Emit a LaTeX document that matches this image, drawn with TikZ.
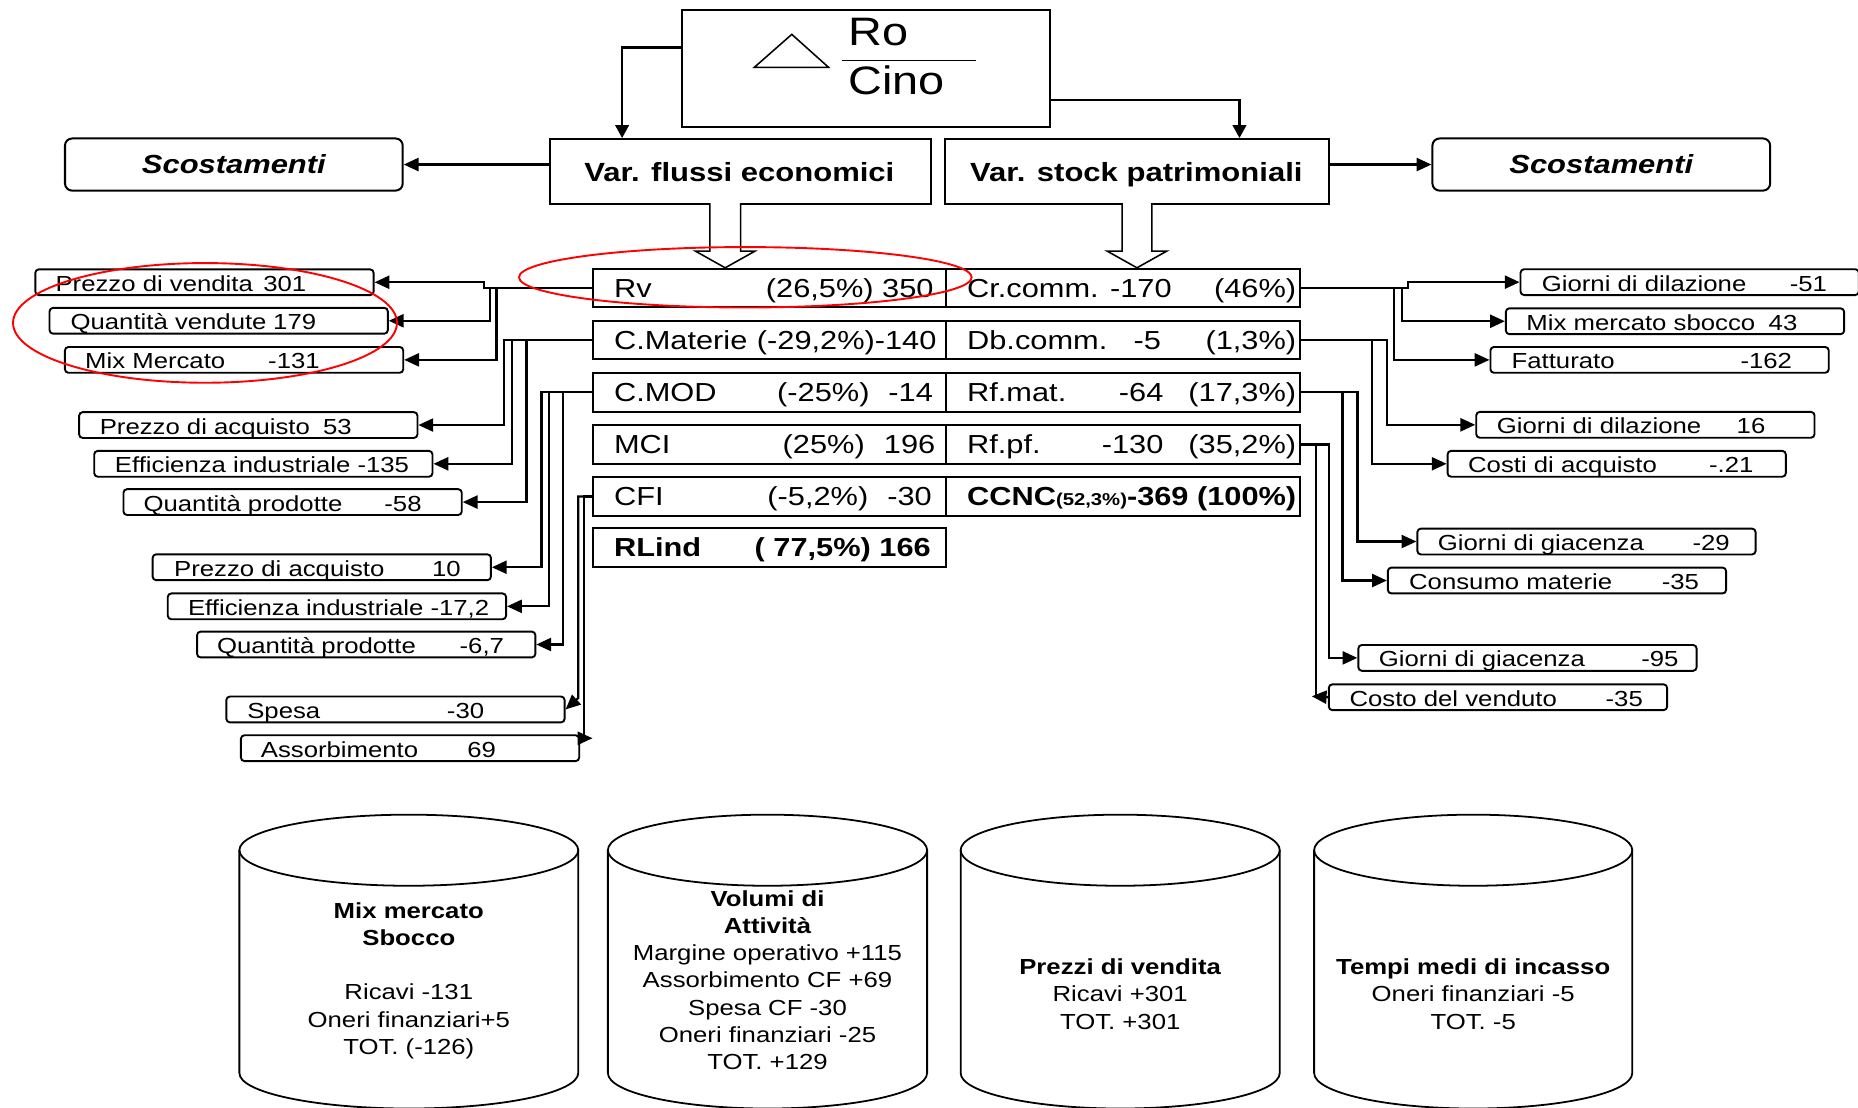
\documentclass[tikz,border=0pt]{standalone}
\usepackage{fontspec}
\setmainfont{Liberation Sans}[FakeStretch=1.18]
\usetikzlibrary{arrows.meta}

% side box: name, x, y (top left), label, label x, value, value right x
\newcommand\sidecell[7]{%
  \node[sidebox] (#1) at (#2,#3) {};
  \node[sidetxt,anchor=base west] (#1-t) at (#5,#3+19.3) {#4};
  \node[sidetxt,anchor=base east] (#1-v) at (#7,#3+19.3) {#6};}

% cylinder: centre x, x radius, top centre y, bottom centre y
\newcommand\drum[4]{%
  \draw[cyl] (#1-#2,#3) -- (#1-#2,#4)
     arc[start angle=180,end angle=360,x radius=#2pt,y radius=30pt] -- (#1+#2,#3);
  \draw[cyl] (#1,#3) ellipse[x radius=#2pt,y radius=30pt];}

\begin{document}
\begin{tikzpicture}[x=1pt,y=-1pt,
  box/.style={draw,line width=1.7pt,inner sep=0pt,anchor=north west},
  roundbox/.style={box,rounded corners=6pt,minimum width=285pt,minimum height=44pt},
  sidebox/.style={draw,line width=1.6pt,rounded corners=3pt,inner sep=0pt,
     anchor=north west,minimum width=285.5pt,minimum height=21.8pt},
  cell/.style={box,minimum width=297.6pt,minimum height=32.5pt},
  rcell/.style={box,minimum width=298.4pt,minimum height=32.5pt},
  conn/.style={line width=1.9pt},
  arr/.style={conn,-{Triangle[length=12.5pt,width=11pt]}},
  darr/.style={conn,-{Triangle[length=11pt,width=11.5pt]}},
  blk/.style={line width=1.3pt,fill=white},
  cyl/.style={line width=1.5pt},
  redring/.style={draw=red,line width=1.6pt},
  celltxt/.style={inner sep=0pt,font=\fontsize{22}{24}\selectfont},
  sidetxt/.style={inner sep=0pt,font=\fontsize{18.4}{20}\selectfont},
  drumtxt/.style={inner sep=0pt,align=center,font=\fontsize{18.4}{23}\selectfont},
  head/.style={font=\fontsize{22.2}{24}\selectfont\bfseries},
  scost/.style={font=\fontsize{22.1}{24}\selectfont\bfseries\itshape}]

\fill[white] (0,0) rectangle (1568,935);
\useasboundingbox (0,0) rectangle (1568,935);

% ---- top ratio box
\node[box,minimum width=310.6pt,minimum height=98pt] (top) at (574.6,8) {};
\draw[line width=1.3pt] (636.6,56.8) -- (668.2,29) -- (699.2,56.8) -- cycle;
\draw[line width=1.3pt] (710.8,51) -- (823.7,51);
\node[inner sep=0pt,anchor=base west,font=\fontsize{33.5}{36}\selectfont] (ro) at (715.8,38) {Ro};
\node[inner sep=0pt,anchor=base west,font=\fontsize{33.5}{36}\selectfont] (cino) at (715.8,80) {Cino};

% ---- second level
\node[box,minimum width=322pt,minimum height=55pt] (vfe) at (463,116.5) {};
\node[box,minimum width=324pt,minimum height=55pt] (vsp) at (797,116.5) {};
\node[head,inner sep=0pt,anchor=base] (vfe-t) at (624,153.3) {Var. flussi economici};
\node[head,inner sep=0pt,anchor=base] (vsp-t) at (959,153.3) {Var. stock patrimoniali};
\node[roundbox,scost] (sl) at (54,116) {Scostamenti};
\node[roundbox,scost] (sr) at (1208,116) {Scostamenti};

\draw[darr] (top.west |- 0,40) -| (525,0 |- vfe.north);
\draw[darr] (top.east |- 0,84.5) -| (1046,0 |- vsp.north);
\draw[arr] (vfe.west |- sl.east) -- (sl.east);
\draw[arr] (vsp.east |- sr.west) -- (sr.west);

% ---- hollow block arrows
\draw[blk] (599,171.5) -- (599,212) -- (587,212) -- (612,226) -- (637,212) -- (625,212) -- (625,171.5);
\draw[blk] (947,171.5) -- (947,212) -- (934.5,212) -- (959.5,226) -- (984.5,212) -- (972,212) -- (972,171.5);

% ---- central table, economic flows
\node[cell] (rv) at (500,226) {};
\node[cell] (cm) at (500,270) {};
\node[cell] (cmod) at (500,314) {};
\node[cell] (mci) at (500,358) {};
\node[cell] (cfi) at (500,402) {};
\node[cell] (rlind) at (500,445) {};
\node[celltxt,anchor=base west] (rv-a) at (518,250.8) {Rv};
\node[celltxt,anchor=base east] (rv-b) at (788,250.8) {(26,5\%) 350};
\node[celltxt,anchor=base west] (cm-a) at (518,294.8) {C.Materie};
\node[celltxt,anchor=base east] (cm-b) at (790.5,294.8) {(-29,2\%)-140};
\node[celltxt,anchor=base west] (cmod-a) at (518,338.8) {C.MOD};
\node[celltxt,anchor=base east] (cmod-b) at (734,338.8) {(-25\%)};
\node[celltxt,anchor=base east] (cmod-c) at (787.5,338.8) {-14};
\node[celltxt,anchor=base west] (mci-a) at (518,382.8) {MCI};
\node[celltxt,anchor=base east] (mci-b) at (730,382.8) {(25\%)};
\node[celltxt,anchor=base east] (mci-c) at (789.5,382.8) {196};
\node[celltxt,anchor=base west] (cfi-a) at (518,426.8) {CFI};
\node[celltxt,anchor=base east] (cfi-b) at (733,426.8) {(-5,2\%)};
\node[celltxt,anchor=base east] (cfi-c) at (786.5,426.8) {-30};
\node[celltxt,anchor=base west,font=\fontsize{22}{24}\selectfont\bfseries] (rlind-a) at (518,469.8) {RLind};
\node[celltxt,anchor=base east,font=\fontsize{22}{24}\selectfont\bfseries] (rlind-b) at (785.7,469.8) {( 77,5\%) 166};

% ---- central table, balance sheet stocks
\node[rcell] (cr) at (797.6,226) {};
\node[rcell] (db) at (797.6,270) {};
\node[rcell] (rfm) at (797.6,314) {};
\node[rcell] (rfp) at (797.6,358) {};
\node[rcell] (ccnc) at (797.6,402) {};
\node[celltxt,anchor=base west] (cr-a) at (816,250.8) {Cr.comm. -170};
\node[celltxt,anchor=base east] (cr-b) at (1094,250.8) {(46\%)};
\node[celltxt,anchor=base west] (db-a) at (816,294.8) {Db.comm.};
\node[celltxt,anchor=base east] (db-b) at (980,294.8) {-5};
\node[celltxt,anchor=base east] (db-c) at (1094,294.8) {(1,3\%)};
\node[celltxt,anchor=base west] (rfm-a) at (816,338.8) {Rf.mat.};
\node[celltxt,anchor=base east] (rfm-b) at (982,338.8) {-64};
\node[celltxt,anchor=base east] (rfm-c) at (1094,338.8) {(17,3\%)};
\node[celltxt,anchor=base west] (rfp-a) at (816,382.8) {Rf.pf.};
\node[celltxt,anchor=base east] (rfp-b) at (982,382.8) {-130};
\node[celltxt,anchor=base east] (rfp-c) at (1094,382.8) {(35,2\%)};
\node[celltxt,anchor=base west,font=\fontsize{22}{24}\selectfont\bfseries] (ccnc-a) at (816,426.8)
   {CCNC{\fontsize{14.5}{16}\selectfont(52,3\%)}-369 (100\%)};

% ---- left detail boxes
\sidecell{l1}{29}{226.5}{Prezzo di vendita}{46.7}{301}{258.6}
\sidecell{l2}{41}{259}{Quantità vendute}{59.4}{179}{267}
\sidecell{l3}{54}{292}{Mix Mercato}{71.7}{-131}{270}
\sidecell{l4}{66}{347}{Prezzo di acquisto}{84}{53}{297}
\sidecell{l5}{78.7}{379.7}{Efficienza industriale}{96.8}{-135}{345.4}
\sidecell{l6}{103.4}{412}{Quantità prodotte}{121}{-58}{356}
\sidecell{l7}{128}{467}{Prezzo di acquisto}{146.8}{10}{389}
\sidecell{l8}{140.8}{500}{Efficienza industriale}{158.5}{-17,2}{413}
\sidecell{l9}{165.5}{532.2}{Quantità prodotte}{183}{-6,7}{425.5}
\sidecell{l10}{190.2}{587}{Spesa}{208.5}{-30}{408.8}
\sidecell{l11}{202.5}{619.7}{Assorbimento}{220}{69}{418.8}

% ---- right detail boxes
\sidecell{r1}{1282.4}{226.4}{Giorni di dilazione}{1301}{-51}{1542}
\sidecell{r2}{1270}{259.4}{Mix mercato sbocco}{1288}{43}{1517}
\sidecell{r3}{1257}{292}{Fatturato}{1275.5}{-162}{1512.5}
\sidecell{r4}{1245}{346.8}{Giorni di dilazione}{1263}{16}{1490}
\sidecell{r5}{1220.8}{379.7}{Costi di acquisto}{1238.8}{-.21}{1480}
\sidecell{r6}{1195.3}{445.3}{Giorni di giacenza}{1213.3}{-29}{1460}
\sidecell{r7}{1170.4}{478.2}{Consumo materie}{1189}{-35}{1434}
\sidecell{r8}{1145.5}{543.5}{Giorni di giacenza}{1163.5}{-95}{1416.7}
\sidecell{r9}{1120.6}{576.7}{Costo del venduto}{1138.7}{-35}{1386.6}

% ---- connectors to the left
\draw[arr] (rv.west) -- (408.5,0 |- rv.west) -- (408.5,0 |- l1.east) -- (l1.east);
\draw[arr] (rv.west) -| (413.5,0 |- l2.east) -- (l2.east);
\draw[arr] (rv.west) -| (419,0 |- l3.east) -- (l3.east);
\draw[arr] (cm.west) -| (425.6,0 |- l4.east) -- (l4.east);
\draw[arr] (cm.west) -| (431.8,0 |- l5.east) -- (l5.east);
\draw[arr] (cm.west) -| (444.4,0 |- l6.east) -- (l6.east);
\draw[arr] (cmod.west) -| (457,0 |- l7.east) -- (l7.east);
\draw[arr] (cmod.west) -| (463.3,0 |- l8.east) -- (l8.east);
\draw[arr] (cmod.west) -| (475,0 |- l9.east) -- (l9.east);
\draw[arr] (cfi.west) -| (488,589) -- (l10.east);
\coordinate (assend) at (500,623);
\draw[arr] (cfi.west) -| (493,623) -- (assend);

% ---- connectors to the right
\draw[arr] (cr.east) -- (1188.5,0 |- cr.east) -- (1188.5,0 |- r1.west) -- (r1.west);
\draw[arr] (cr.east) -| (1183,0 |- r2.west) -- (r2.west);
\draw[arr] (cr.east) -| (1176.4,0 |- r3.west) -- (r3.west);
\draw[arr] (db.east) -| (1170.7,0 |- r4.west) -- (r4.west);
\draw[arr] (db.east) -| (1158,0 |- r5.west) -- (r5.west);
\draw[arr] (rfm.east) -| (1145.7,0 |- r6.west) -- (r6.west);
\draw[arr] (rfm.east) -| (1133,0 |- r7.west) -- (r7.west);
\draw[arr] (rfp.east) -| (1121.8,0 |- r8.west) -- (r8.west);
\coordinate (vendend) at (1107,587.6);
\draw[conn] (rfp.east) -| (1110.4,0 |- r9.west);
\draw[arr] (r9.west) -- (vendend);

% ---- summary cylinders
\drum{345}{143}{717.5}{905.5}
\drum{647.7}{134.7}{717.5}{905.5}
\drum{945.35}{134.65}{717.5}{905.5}
\drum{1243.25}{134.25}{717.5}{905.5}
\node[drumtxt] (d1) at (345,827.5)
  {\textbf{Mix mercato}\\\textbf{Sbocco}\\[23pt]Ricavi -131\\Oneri finanziari+5\\TOT. (-126)};
\node[drumtxt] (d2) at (647.7,827)
  {\textbf{Volumi di}\\\textbf{Attività}\\Margine operativo +115\\Assorbimento CF +69\\Spesa CF -30\\Oneri finanziari -25\\TOT. +129};
\node[drumtxt] (d3) at (945.35,839)
  {\textbf{Prezzi di vendita}\\Ricavi +301\\TOT. +301};
\node[drumtxt] (d4) at (1243.25,839)
  {\textbf{Tempi medi di incasso}\\Oneri finanziari -5\\TOT. -5};

% ---- red highlight rings
\draw[redring] (173,272.5) ellipse[x radius=162pt,y radius=50.5pt];
\draw[redring] (629,234) ellipse[x radius=191pt,y radius=25.5pt];
\end{tikzpicture}
\end{document}
